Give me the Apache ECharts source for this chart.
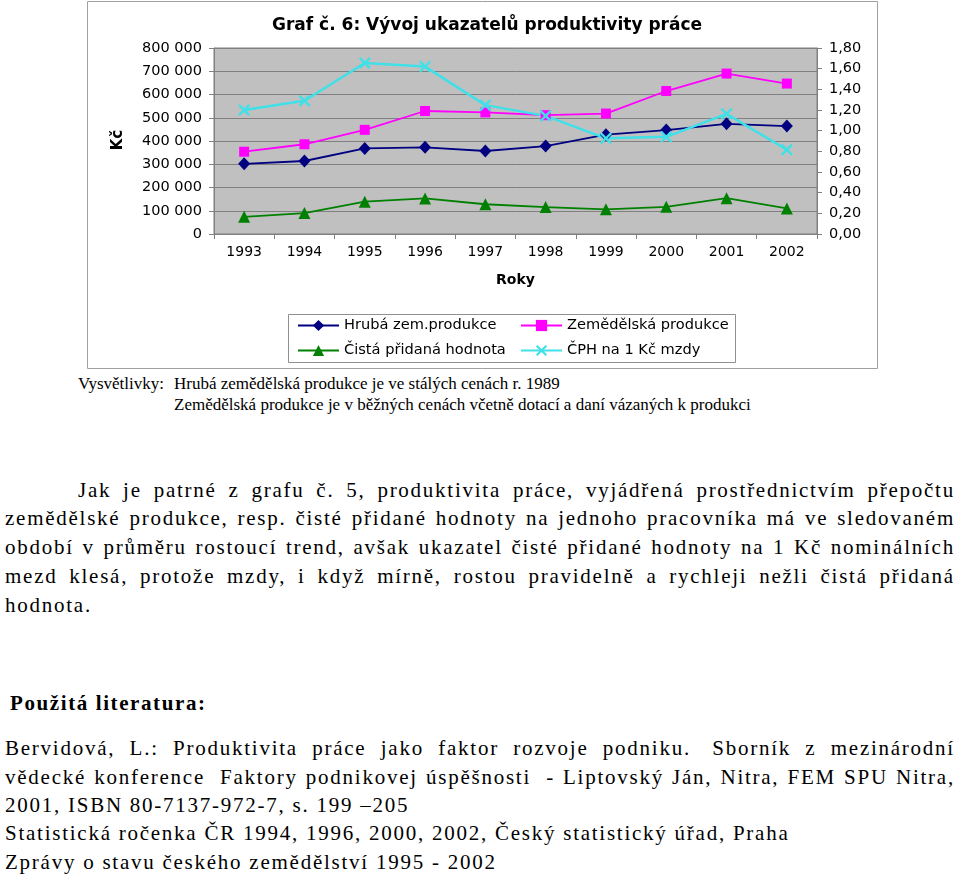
<!DOCTYPE html>
<html>
<head>
<meta charset="utf-8">
<script src="https://cdn.jsdelivr.net/npm/echarts@6/dist/echarts.min.js"></script>
<style>
html,body{margin:0;padding:0;background:#fff;width:960px;height:879px;overflow:hidden;}
#chart{position:absolute;left:0;top:0;width:960px;height:372px;}
.ser{font-family:"Liberation Serif","Times New Roman",serif;color:#000;position:absolute;white-space:nowrap;}
.note{font-size:17px;line-height:20px;letter-spacing:0px;}
.p{font-size:21px;line-height:28px;left:5px;width:950px;letter-spacing:1.75px;}
.j{display:flex;justify-content:space-between;}
</style>
</head>
<body>
<div id="chart"></div>

<div class="ser note" style="left:78px;top:374px;">Vysvětlivky:</div>
<div class="ser note" style="left:174px;top:374px;">Hrubá zemědělská produkce je ve stálých cenách r. 1989</div>
<div class="ser note" style="left:174px;top:395px;">Zemědělská produkce je v běžných cenách včetně dotací a daní vázaných k produkci</div>

<div class="ser p j" style="top:476px;left:78px;width:877px;">Jak je patrné z grafu č. 5, produktivita práce, vyjádřená prostřednictvím přepočtu</div>
<div class="ser p j" style="top:504px;">zemědělské produkce, resp. čisté přidané hodnoty na jednoho pracovníka má ve sledovaném</div>
<div class="ser p j" style="top:533px;">období v průměru rostoucí trend, avšak ukazatel čisté přidané hodnoty na 1 Kč nominálních</div>
<div class="ser p j" style="top:562px;">mezd klesá, protože mzdy, i když mírně, rostou pravidelně a rychleji nežli čistá přidaná</div>
<div class="ser p" style="top:591px;">hodnota.</div>

<div class="ser p" style="top:689px;left:10px;font-weight:bold;letter-spacing:1.6px;">Použitá literatura:</div>
<div class="ser p j" style="top:734px;">Bervidová, L.: Produktivita práce jako faktor rozvoje podniku.|Sborník z mezinárodní</div>
<div class="ser p j" style="top:763px;">vědecké konference|Faktory podnikovej úspěšnosti|- Liptovský Ján, Nitra, FEM SPU Nitra,</div>
<div class="ser p" style="top:791px;">2001, ISBN 80-7137-972-7, s. 199 –205</div>
<div class="ser p" style="top:819px;">Statistická ročenka ČR 1994, 1996, 2000, 2002, Český statistický úřad, Praha</div>
<div class="ser p" style="top:848px;">Zprávy o stavu českého zemědělství 1995 - 2002</div>

<script>
// justify each fixed line by splitting into word spans (flex space-between)
document.querySelectorAll('.j').forEach(el => {
  const txt = el.textContent.replace(/\|/g, ' \u00a0');
  const words = txt.split(' ').filter(w => w.length);
  el.textContent = '';
  words.forEach(w => { const s = document.createElement('span'); s.textContent = w; el.appendChild(s); });
  let ls = 1.75;
  while (el.scrollWidth > el.clientWidth + 1 && ls > 0) { ls -= 0.1; el.style.letterSpacing = ls + 'px'; }
});

const years = ['1993','1994','1995','1996','1997','1998','1999','2000','2001','2002'];
const hrubaName = 'Hrubá zem.produkce';
const zemedName = 'Zemědělská produkce';
const cistaName = 'Čistá přidaná hodnota';
const cphName = 'ČPH na 1 Kč mzdy';
const hruba = [302000, 314000, 368000, 373000, 357000, 378000, 427000, 447000, 474000, 464000];
const zemed = [354000, 386000, 448000, 529000, 523000, 511000, 518000, 615000, 690000, 647000];
const cista = [74000, 90000, 139000, 153000, 128000, 116000, 106000, 117000, 154000, 110000];
const cph = [1.20, 1.29, 1.655, 1.62, 1.247, 1.143, 0.926, 0.94, 1.163, 0.815];
const titleText = 'Graf č. 6: Vývoj ukazatelů produktivity práce';
const yLeftName = 'Kč';
const xName = 'Roky';

const FONT = '"DejaVu Sans", Verdana, sans-serif';
const crossPath = 'path://M0,1.4L1.4,0L5,3.6L8.6,0L10,1.4L6.4,5L10,8.6L8.6,10L5,6.4L1.4,10L0,8.6L3.6,5Z';

const chart = echarts.init(document.getElementById('chart'), null, {renderer:'canvas'});
const fmtLeft = v => String(v).replace(/\B(?=(\d{3})+(?!\d))/g, ' ');
const fmtRight = v => v.toFixed(2).replace('.', ',');

chart.setOption({
  animation: false,
  backgroundColor: '#fff',
  title: {
    text: titleText, left: 482, textAlign: 'center', top: 12,
    textStyle: {fontFamily: FONT, fontSize: 17, fontWeight: 'bold', color: '#000'}
  },
  graphic: [
    {type:'rect', shape:{x:87.5, y:1.5, width:790, height:367}, style:{fill:'none', stroke:'#a0a0a0', lineWidth:1}, silent:true, z:-1},
    {type:'rect', shape:{x:288.5, y:314.5, width:447, height:48}, style:{fill:'none', stroke:'#909090', lineWidth:1}, silent:true},
    {type:'text', x:118, y:140, rotation:Math.PI/2, style:{text:yLeftName, fontFamily:FONT, fontSize:15, fontWeight:'bold', fill:'#000', align:'center', verticalAlign:'middle'}}
  ],
  legend: [
    {data:[hrubaName, cistaName], orient:'vertical', left:297, top:318, padding:0, itemWidth:41, itemHeight:14, itemGap:10,
     textStyle:{fontFamily:FONT, fontSize:14.6, color:'#000', lineHeight:14}},
    {data:[zemedName, cphName], orient:'vertical', left:520, top:318, padding:0, itemWidth:41, itemHeight:14, itemGap:10,
     textStyle:{fontFamily:FONT, fontSize:14.6, color:'#000', lineHeight:14}}
  ],
  grid: {left:214, right:143, top:48, bottom:138, show:true, backgroundColor:'#c0c0c0', borderColor:'#808080', borderWidth:1},
  xAxis: {
    type:'category', data: years, boundaryGap:true,
    name: xName, nameLocation:'middle', nameGap:39,
    nameTextStyle:{fontFamily:FONT, fontSize:14, fontWeight:'bold', color:'#000'},
    axisLine:{lineStyle:{color:'#808080'}},
    axisTick:{show:true, length:5, lineStyle:{color:'#808080'}},
    axisLabel:{fontFamily:FONT, fontSize:14, color:'#000', margin:11}
  },
  yAxis: [
    {type:'value', min:0, max:800000, interval:100000, position:'left',
     axisLine:{show:true, lineStyle:{color:'#808080'}},
     axisTick:{show:true, length:5, lineStyle:{color:'#808080'}},
     splitLine:{show:true, lineStyle:{color:'#808080', width:1}},
     axisLabel:{fontFamily:FONT, fontSize:14.5, color:'#000', margin:12, formatter:fmtLeft}},
    {type:'value', min:0, max:1.8, interval:0.2, position:'right',
     axisLine:{show:true, lineStyle:{color:'#808080'}},
     axisTick:{show:true, length:5, lineStyle:{color:'#808080'}},
     splitLine:{show:false},
     axisLabel:{fontFamily:FONT, fontSize:14.5, color:'#000', margin:12, formatter:fmtRight}}
  ],
  series: [
    {name:hrubaName, type:'line', data:hruba, yAxisIndex:0, symbol:'diamond', symbolSize:[12,13],
     lineStyle:{color:'#000080', width:1.8}, itemStyle:{color:'#000080'}},
    {name:zemedName, type:'line', data:zemed, yAxisIndex:0, symbol:'rect', symbolSize:10,
     lineStyle:{color:'#ff00ff', width:1.8}, itemStyle:{color:'#ff00ff'}},
    {name:cistaName, type:'line', data:cista, yAxisIndex:0, symbol:'triangle', symbolSize:12,
     lineStyle:{color:'#008000', width:1.8}, itemStyle:{color:'#008000'}},
    {name:cphName, type:'line', data:cph, yAxisIndex:1, symbol:crossPath, symbolSize:12,
     lineStyle:{color:'#40e0e8', width:2.5}, itemStyle:{color:'#40e0e8'}}
  ]
});
</script>
</body>
</html>
